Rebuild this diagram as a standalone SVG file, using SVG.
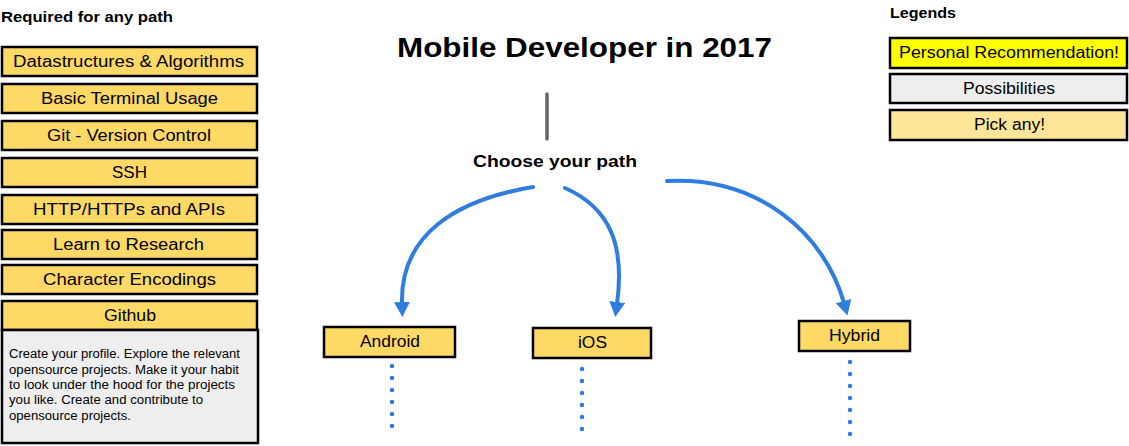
<svg xmlns="http://www.w3.org/2000/svg" width="1129" height="446" viewBox="0 0 1129 446">
<style>
  text { font-family: "Liberation Sans", Arial, sans-serif; fill: #000; }
  .h { font-weight: bold; font-size: 15px; }
  .t { font-size: 16px; }
  .d { font-size: 12px; }
  .box { fill: #ffd966; stroke: #000; stroke-width: 2.5; }
  .rec { fill: #ffff00; stroke: #000; stroke-width: 2.5; }
  .pos { fill: #eeeeee; stroke: #000; stroke-width: 2.5; }
  .any { fill: #ffe599; stroke: #000; stroke-width: 2.5; }
  .arrow { fill: none; stroke: #2f7de1; stroke-width: 4; stroke-linecap: round; }
  .dots { fill: none; stroke: #2f7de1; stroke-width: 4.5; stroke-linecap: round; stroke-dasharray: 0 12; }
</style>
<defs>
  <marker id="ah" viewBox="0 0 15 16" refX="2" refY="8" markerWidth="15" markerHeight="16" markerUnits="userSpaceOnUse" orient="auto">
    <path d="M0,0 L15,8 L0,16 z" fill="#2f7de1"/>
  </marker>
</defs>
<rect width="1129" height="446" fill="#fff"/>

<g id="title">
  <text x="397" y="57" font-size="28" font-weight="bold" textLength="375" lengthAdjust="spacingAndGlyphs">Mobile Developer in 2017</text>
</g>

<g id="required-header">
  <text class="h" x="1" y="22" textLength="172" lengthAdjust="spacingAndGlyphs">Required for any path</text>
</g>

<g id="node-dsa">
  <rect class="box" x="2" y="47" width="255" height="29"/>
  <text class="t" x="13" y="67" textLength="231" lengthAdjust="spacingAndGlyphs">Datastructures &amp; Algorithms</text>
</g>
<g id="node-terminal">
  <rect class="box" x="2" y="84" width="255" height="29"/>
  <text class="t" x="41" y="104" textLength="177" lengthAdjust="spacingAndGlyphs">Basic Terminal Usage</text>
</g>
<g id="node-git">
  <rect class="box" x="2" y="121" width="255" height="29"/>
  <text class="t" x="47" y="141" textLength="164" lengthAdjust="spacingAndGlyphs">Git - Version Control</text>
</g>
<g id="node-ssh">
  <rect class="box" x="2" y="158" width="255" height="29"/>
  <text class="t" x="112" y="178" textLength="35" lengthAdjust="spacingAndGlyphs">SSH</text>
</g>
<g id="node-http">
  <rect class="box" x="2" y="195" width="255" height="29"/>
  <text class="t" x="33" y="215" textLength="192" lengthAdjust="spacingAndGlyphs">HTTP/HTTPs and APIs</text>
</g>
<g id="node-research">
  <rect class="box" x="2" y="230" width="255" height="29"/>
  <text class="t" x="53" y="250" textLength="151" lengthAdjust="spacingAndGlyphs">Learn to Research</text>
</g>
<g id="node-encodings">
  <rect class="box" x="2" y="265" width="255" height="29"/>
  <text class="t" x="43" y="285" textLength="173" lengthAdjust="spacingAndGlyphs">Character Encodings</text>
</g>
<g id="node-github">
  <rect class="box" x="2" y="301" width="255" height="29"/>
  <text class="t" x="104" y="321" textLength="52" lengthAdjust="spacingAndGlyphs">Github</text>
  <rect class="pos" x="2" y="330" width="256" height="113"/>
  <text class="d" x="9" y="358" textLength="231" lengthAdjust="spacingAndGlyphs">Create your profile. Explore the relevant</text>
  <text class="d" x="9" y="374" textLength="230" lengthAdjust="spacingAndGlyphs">opensource projects. Make it your habit</text>
  <text class="d" x="9" y="389" textLength="226" lengthAdjust="spacingAndGlyphs">to look under the hood for the projects</text>
  <text class="d" x="9" y="404" textLength="194" lengthAdjust="spacingAndGlyphs">you like. Create and contribute to</text>
  <text class="d" x="9" y="420" textLength="122" lengthAdjust="spacingAndGlyphs">opensource projects.</text>
</g>

<g id="legends">
  <text class="h" x="890" y="18" textLength="66" lengthAdjust="spacingAndGlyphs">Legends</text>
  <rect class="rec" x="890" y="38" width="237" height="30"/>
  <text class="t" x="899" y="58" textLength="220" lengthAdjust="spacingAndGlyphs">Personal Recommendation!</text>
  <rect class="pos" x="890" y="74" width="237" height="29"/>
  <text class="t" x="963" y="94" textLength="92" lengthAdjust="spacingAndGlyphs">Possibilities</text>
  <rect class="any" x="890" y="110" width="237" height="30"/>
  <text class="t" x="974" y="130" textLength="71" lengthAdjust="spacingAndGlyphs">Pick any!</text>
</g>

<g id="node-choose">
  <text x="473" y="167" font-size="17" font-weight="bold" textLength="164" lengthAdjust="spacingAndGlyphs">Choose your path</text>
</g>

<g id="node-android">
  <rect class="box" x="324" y="327" width="131" height="30"/>
  <text class="t" x="360" y="347" textLength="60" lengthAdjust="spacingAndGlyphs">Android</text>
</g>
<g id="node-ios">
  <rect class="box" x="533" y="328" width="118" height="30"/>
  <text class="t" x="578" y="348" textLength="29" lengthAdjust="spacingAndGlyphs">iOS</text>
</g>
<g id="node-hybrid">
  <rect class="box" x="799" y="321" width="111" height="30"/>
  <text class="t" x="829" y="341" textLength="51" lengthAdjust="spacingAndGlyphs">Hybrid</text>
</g>

<g id="connectors">
  <line x1="547" y1="94" x2="547" y2="139" stroke="#666" stroke-width="3.5" stroke-linecap="round"/>
  <path class="arrow" d="M533,187 C455,200 400,235 402,304" marker-end="url(#ah)"/>
  <path class="arrow" d="M565,188 C610,208 625,245 617,304" marker-end="url(#ah)"/>
  <path class="arrow" d="M667,181 C760,176 825,235 844,303" marker-end="url(#ah)"/>
  <line class="dots" x1="392" y1="366" x2="392" y2="427"/>
  <line class="dots" x1="582" y1="369" x2="582" y2="430"/>
  <line class="dots" x1="850" y1="362" x2="850" y2="435"/>
</g>
</svg>
